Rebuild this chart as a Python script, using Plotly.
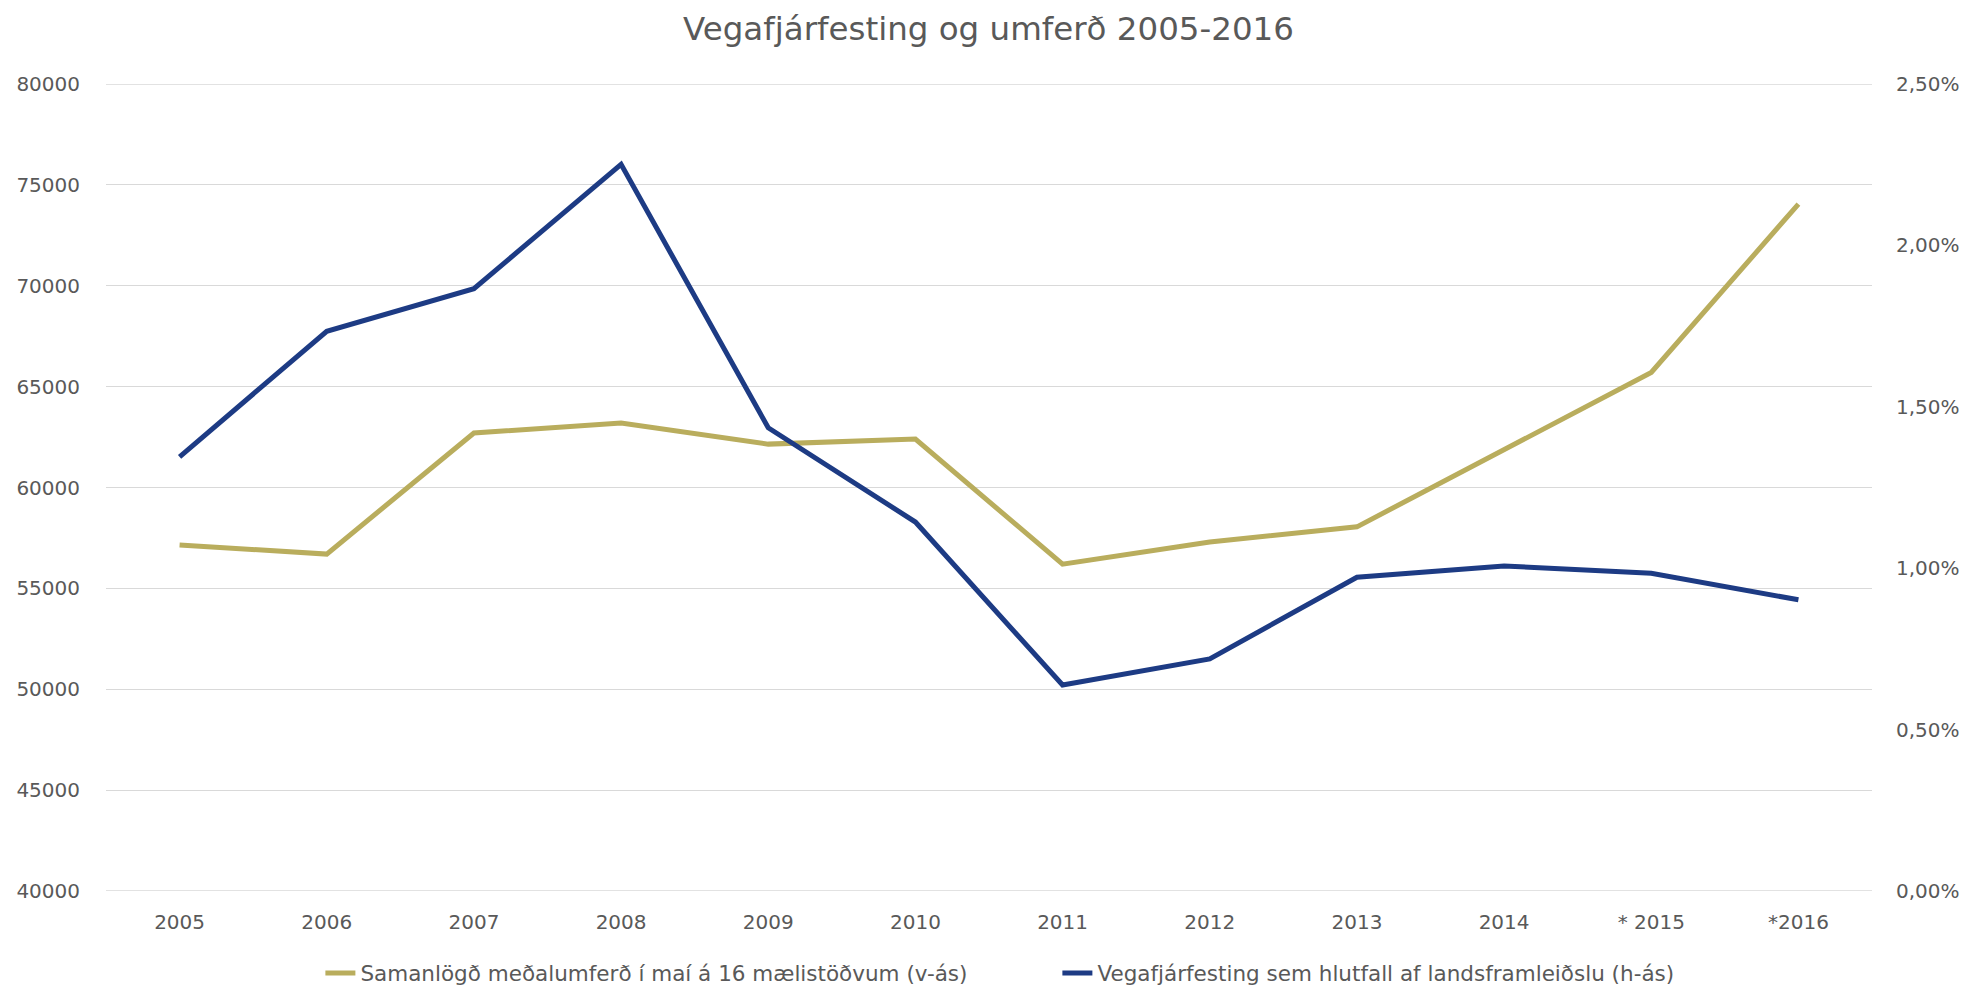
import plotly.graph_objects as go

years = ["2005", "2006", "2007", "2008", "2009", "2010", "2011", "2012", "2013", "2014", "* 2015", "*2016"]
traffic = [57150, 56700, 62700, 63200, 62150, 62400, 56200, 57300, 58050, 61850, 65700, 74050]
invest_share = [0.01345, 0.01734, 0.01866, 0.02251, 0.01435, 0.01143, 0.00638, 0.00719, 0.00972, 0.01007, 0.00984, 0.00902]
left_ticks = list(range(40000, 80001, 5000))
right_ticks = [0, 0.005, 0.01, 0.015, 0.02, 0.025]

name_traffic = "Samanlögð meðalumferð í maí á 16 mælistöðvum (v-ás)"
name_invest = "Vegafjárfesting sem hlutfall af landsframleiðslu (h-ás)"

GOLD = "#B9AD5D"
BLUE = "#1D3B84"
TXT = "#595959"
GRID = "#D9D9D9"
FONT = "DejaVu Sans, Verdana, sans-serif"

fig = go.Figure()
fig.add_trace(go.Scatter(x=years, y=traffic, name=name_traffic, mode="lines",
                         line=dict(color=GOLD, width=5), yaxis="y"))
fig.add_trace(go.Scatter(x=years, y=invest_share, name=name_invest, mode="lines",
                         line=dict(color=BLUE, width=5), yaxis="y2"))

# edge gridlines (plotly drops grid lines exactly on the plot edges)
for v in (left_ticks[0], left_ticks[-1]):
    fig.add_shape(type="line", xref="paper", yref="y", x0=0, x1=1, y0=v, y1=v,
                  line=dict(color=GRID, width=1.3), layer="below")

fig.update_layout(
    width=1961, height=980,
    paper_bgcolor="white", plot_bgcolor="white",
    margin=dict(l=98, r=97, t=76, b=96.5, autoexpand=False),
    separators=", ",
    font=dict(family=FONT, size=20, color=TXT),
    title=dict(text="Vegafjárfesting og umferð 2005-2016", x=0.5, xanchor="center",
               y=0.9786, yanchor="middle", font=dict(family=FONT, size=32.5, color=TXT)),
    xaxis=dict(type="category", range=[-0.5, 11.5], showgrid=False, zeroline=False,
               showline=False, ticks="", ticklabelstandoff=17,
               tickfont=dict(size=20, color=TXT)),
    yaxis=dict(range=[40000, 80000], tickvals=left_ticks,
               tickformat="d", showgrid=True,
               gridcolor=GRID, gridwidth=1.3, zeroline=False, showline=False,
               ticks="", ticklabelstandoff=25, tickfont=dict(size=20, color=TXT)),
    yaxis2=dict(range=[0, 0.025], tickvals=right_ticks,
                tickformat=".2%", overlaying="y",
                side="right", showgrid=False, zeroline=False, showline=False,
                ticks="", ticklabelstandoff=23, tickfont=dict(size=20, color=TXT)),
    legend=dict(orientation="h", xref="container", yref="container",
                x=0.1593, xanchor="left", y=0.0153, yanchor="middle",
                font=dict(size=21.5, color=TXT), traceorder="normal",
                entrywidth=692, entrywidthmode="pixels"),
    showlegend=True,
)

fig.write_html("out.html")
